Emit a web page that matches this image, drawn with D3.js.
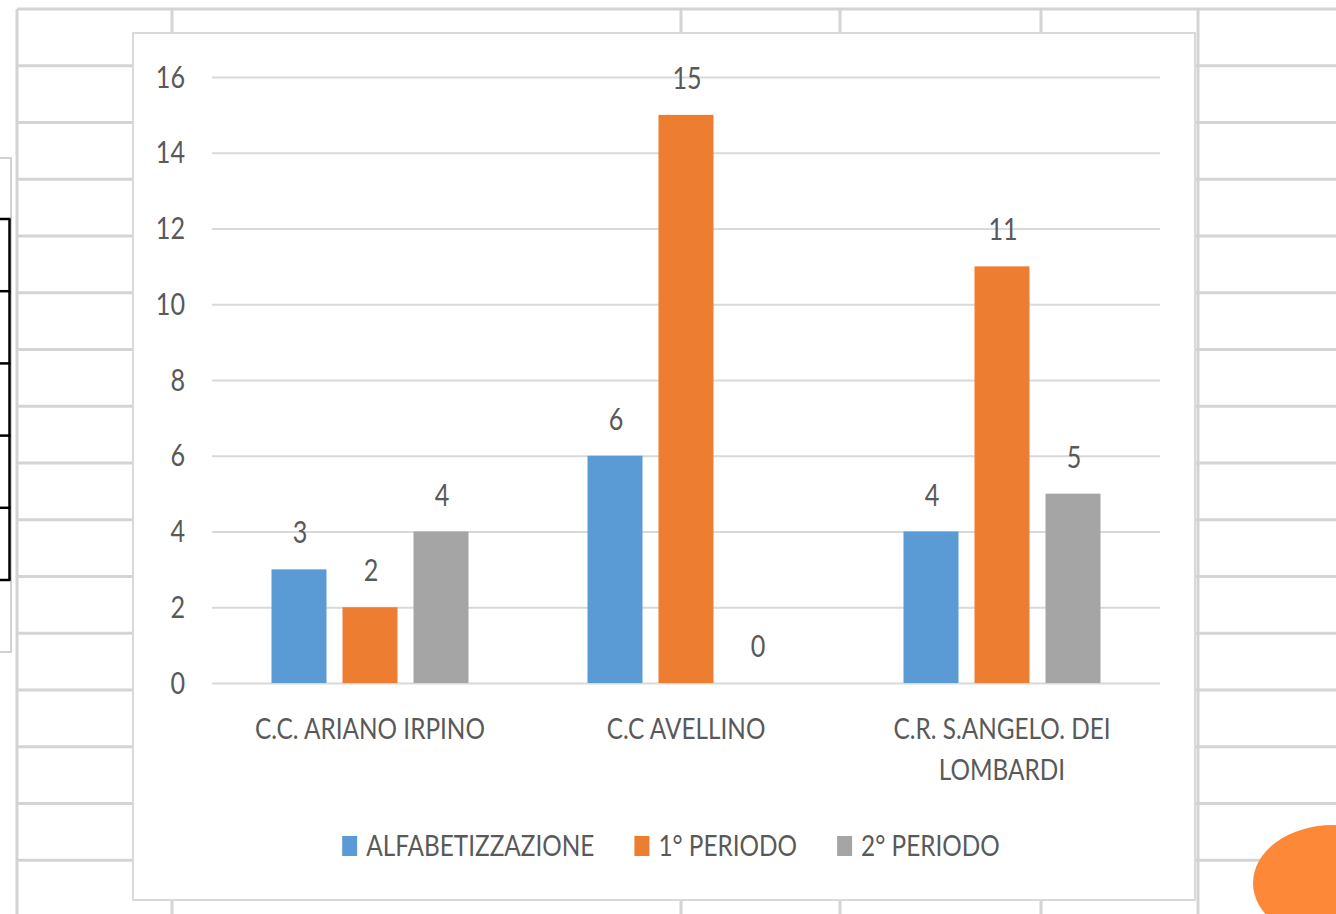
<!DOCTYPE html>
<html><head><meta charset="utf-8">
<script src="https://cdn.jsdelivr.net/npm/d3@7"></script>
<style>
body{margin:0;background:#fff;overflow:hidden}
svg{display:block}
text{font-family:Lato,"Open Sans",sans-serif;fill:#595959}
</style>
</head><body>
<svg id="c" width="1336" height="914"></svg>
<script>
// ---- data ----
const categories = ["C.C. ARIANO IRPINO", "C.C AVELLINO", "C.R. S.ANGELO. DEI LOMBARDI"];
const seriesNames = ["ALFABETIZZAZIONE", "1° PERIODO", "2° PERIODO"];
const alfabetizzazione = [3, 6, 4];
const periodo1 = [2, 15, 11];
const periodo2 = [4, 0, 5];
const yTicks = [0, 2, 4, 6, 8, 10, 12, 14, 16];
const colors = ["#5B9BD5", "#ED7D31", "#A5A5A5"];

const seriesValues = [alfabetizzazione, periodo1, periodo2];
const table = categories.map((c, i) => ({cat: c, vals: seriesNames.map((s, j) => ({s, v: seriesValues[j][i], j}))}));

// ---- layout ----
const W = 1336, H = 914;
const chart = {x: 133, y: 33, w: 1062, h: 867};
const plot = {l: 212, r: 1160, t: 77, b: 683};
const SX = 0.84;
const svg = d3.select("#c");
svg.append("rect").attr("width", W).attr("height", H).attr("fill", "#fff");

// spreadsheet background
const bg = svg.append("g").attr("stroke", "#d4d4d4").attr("stroke-width", 3);
const rowYs = d3.range(9, H, 56.75);
rowYs.forEach(y => bg.append("line").attr("x1", 17).attr("x2", W).attr("y1", y).attr("y2", y));
const colXs = [17, 172, 681, 840, 1041, 1198];
colXs.forEach(x => bg.append("line").attr("x1", x).attr("x2", x).attr("y1", 9).attr("y2", H));

// left partial boxes
svg.append("rect").attr("x", -5).attr("y", 158).attr("width", 16).attr("height", 494)
  .attr("fill", "#fff").attr("stroke", "#d0d0d0").attr("stroke-width", 2);
const blk = svg.append("g").attr("stroke", "#000").attr("stroke-width", 2.5);
const blkYs = d3.range(6).map(i => 219 + i * 72.2);
blkYs.forEach(y => blk.append("line").attr("x1", 0).attr("x2", 10.5).attr("y1", y).attr("y2", y));
blk.append("line").attr("x1", 9.5).attr("x2", 9.5).attr("y1", 219).attr("y2", blkYs[5]);

// chart box
svg.append("rect").attr("x", chart.x).attr("y", chart.y).attr("width", chart.w).attr("height", chart.h)
  .attr("fill", "#fff").attr("stroke", "#d9d9d9").attr("stroke-width", 2);

// scales
const y = d3.scaleLinear().domain([0, 16]).range([plot.b, plot.t]);
const x0 = d3.scaleBand().domain(categories).range([plot.l, plot.r]).padding(0);
const x1 = d3.scaleBand().domain(seriesNames).range([0, x0.bandwidth()]).paddingInner(0.2254).paddingOuter(0.838);

// y axis with gridlines
const yAxis = svg.append("g").attr("transform", `translate(${plot.l},0)`)
  .call(d3.axisLeft(y).tickValues(yTicks).tickSize(-(plot.r - plot.l)).tickFormat(d3.format("d")));
yAxis.select(".domain").remove();
yAxis.selectAll(".tick line").attr("stroke", "#d9d9d9").attr("stroke-width", 2);
yAxis.selectAll(".tick text").attr("x", -27 / SX).attr("dy", null).attr("y", 10)
  .attr("transform", `scale(${SX},1)`).attr("text-anchor", "end")
  .style("font-size", "30px").attr("fill", "#595959");

// text helper
function txt(parent, x, yy, s, size, anchor) {
  return parent.append("text").attr("transform", `translate(${x},${yy}) scale(${SX},1)`)
    .attr("text-anchor", anchor).style("font-size", size + "px").text(s);
}

// bars
const groups = svg.append("g").selectAll("g").data(table).join("g")
  .attr("transform", d => `translate(${x0(d.cat)},0)`);
groups.selectAll("rect").data(d => d.vals).join("rect")
  .attr("x", d => x1(d.s)).attr("width", x1.bandwidth())
  .attr("y", d => y(d.v)).attr("height", d => y(0) - y(d.v))
  .attr("fill", d => colors[d.j]);
groups.each(function(d) {
  const g = d3.select(this);
  d.vals.forEach(v => txt(g, x1(v.s) + x1.bandwidth() / 2 + 1, y(v.v) - 26, String(v.v), 30, "middle"));
});

// category labels (wrapped)
const labG = svg.append("g");
categories.forEach(c => {
  const cx = x0(c) + x0.bandwidth() / 2;
  const words = c.split(" ");
  const lines = [];
  let cur = "";
  const probe = txt(labG, 0, 0, "", 29, "middle");
  words.forEach(w => {
    const t = cur ? cur + " " + w : w;
    probe.text(t);
    if (probe.node().getComputedTextLength() * SX > 275 && cur) { lines.push(cur); cur = w; }
    else cur = t;
  });
  lines.push(cur);
  probe.remove();
  lines.forEach((l, i) => txt(labG, cx, plot.b + 56 + i * 41, l, 29, "middle"));
});

// legend
const lg = svg.append("g");
const items = seriesNames.map((s, j) => {
  const t = txt(lg, 0, 856, s, 29, "start");
  return {t, w: t.node().getComputedTextLength() * SX, j};
});
const sq = 15, gapT = 9, gapI = 40;
const total = d3.sum(items, d => sq + gapT + d.w) + gapI * (items.length - 1);
let lx = 671 - total / 2;
items.forEach(it => {
  lg.append("rect").attr("x", lx).attr("y", 836).attr("width", sq).attr("height", 20).attr("fill", colors[it.j]);
  it.t.attr("transform", `translate(${lx + sq + gapT},856) scale(${SX},1)`);
  lx += sq + gapT + it.w + gapI;
});

// orange decorative ellipse
svg.append("ellipse").attr("cx", 1333).attr("cy", 883).attr("rx", 80).attr("ry", 58).attr("fill", "#FD8837");
</script>
</body></html>
